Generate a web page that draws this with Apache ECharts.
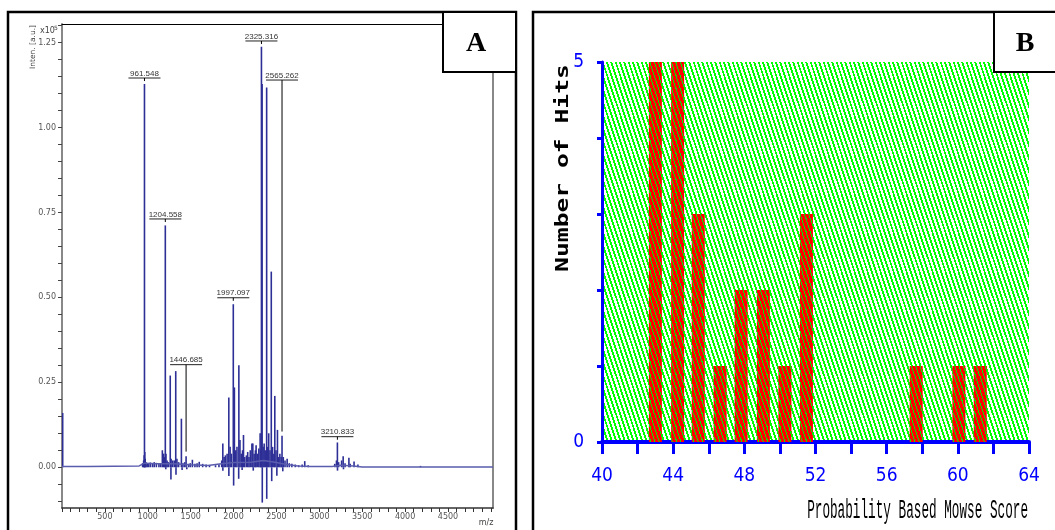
<!DOCTYPE html>
<html>
<head>
<meta charset="utf-8">
<script src="https://cdn.jsdelivr.net/npm/echarts@6/dist/echarts.min.js"></script>
<style>
  html, body { margin: 0; padding: 0; background: #fff; }
  #chart { width: 1055px; height: 530px; }
</style>
</head>
<body>
<div id="chart"></div>
<script>
// ---------- Panel A: MALDI-TOF mass spectrum (intensity in units of 1e5 a.u.) ----------
const peakMz = [
  8,
  940, 952, 958, 961.548, 965, 970, 980, 995, 1010, 1030, 1055, 1075, 1100, 1130, 1150,
  1170, 1185, 1195, 1204.558, 1212, 1225, 1240,
  1262, 1272, 1290, 1310, 1326, 1340, 1360, 1392, 1410, 1430, 1446.685, 1475, 1495,
  1520, 1550, 1575, 1600, 1640, 1680, 1720, 1790, 1830,
  1862, 1875, 1890, 1905, 1925, 1945, 1960, 1975, 1997.097, 2010, 2025, 2040, 2062,
  2075, 2090, 2105, 2116, 2130, 2150, 2165, 2180, 2195, 2214, 2225, 2240, 2255, 2263,
  2280, 2295, 2310, 2318, 2325.316, 2333, 2345, 2357, 2370, 2386, 2398, 2410, 2425,
  2440, 2455, 2470, 2481, 2495, 2512, 2525, 2540, 2555, 2565.262, 2580, 2600, 2625,
  2650, 2680, 2720, 2760, 2800, 2830, 2870,
  3180, 3200, 3210.833, 3225, 3260, 3278, 3300, 3345, 3360, 3405, 3450, 4180,
  // baseline dips
  1210, 1270, 1329, 1400, 1455, 1875.5, 1945.5, 2001, 2060, 2100, 2230, 2335, 2387,
  2445, 2505, 2574, 3212, 3282
];
const peakIntensity = [
  0.16,
  0.012, 0.02, 0.035, 1.128, 0.045, 0.025, 0.015, 0.012, 0.01, 0.014, 0.012, 0.015, 0.013, 0.01, 0.012,
  0.05, 0.04, 0.03, 0.712, 0.04, 0.02, 0.015,
  0.27, 0.025, 0.02, 0.02, 0.283, 0.025, 0.015, 0.143, 0.012, 0.015, 0.032, 0.01, 0.012,
  0.022, 0.01, 0.012, 0.016, 0.01, 0.008, 0.006, 0.006, 0.008,
  0.02, 0.07, 0.03, 0.035, 0.04, 0.205, 0.06, 0.04, 0.48, 0.235, 0.05, 0.06, 0.30,
  0.08, 0.04, 0.05, 0.095, 0.03, 0.035, 0.045, 0.03, 0.05, 0.07, 0.07, 0.04, 0.05, 0.065,
  0.04, 0.055, 0.10, 0.05, 1.238, 1.128, 0.06, 0.07, 0.05, 1.118, 0.06, 0.10, 0.05,
  0.576, 0.06, 0.04, 0.21, 0.05, 0.11, 0.03, 0.04, 0.03, 0.093, 0.03, 0.02, 0.025,
  0.012, 0.01, 0.008, 0.006, 0.008, 0.018, 0.006,
  0.01, 0.02, 0.073, 0.015, 0.02, 0.032, 0.012, 0.028, 0.01, 0.017, 0.008, 0.004,
  -0.006, -0.036, -0.022, -0.008, -0.006, -0.01, -0.026, -0.054, -0.034, -0.008, -0.01, -0.104, -0.093,
  -0.041, -0.025, -0.012, -0.01, -0.006
];
const baselineMz = [0, 300, 600, 900, 960, 1100, 1300, 1500, 1700, 1860, 2000, 2200, 2350, 2500, 2620, 2750, 2900, 3150, 3250, 3400, 3500, 5025];
const baselineLevel = [0.002, 0.002, 0.003, 0.004, 0.012, 0.01, 0.01, 0.007, 0.005, 0.01, 0.014, 0.015, 0.02, 0.014, 0.008, 0.004, 0.002, 0.002, 0.006, 0.004, 0.001, 0.001];

// annotated peaks: m/z, height of the underline, end of the leader line
const labelMz = [961.548, 1204.558, 1446.685, 1997.097, 2325.316, 2565.262, 3210.833];
const labelLevel = [1.146, 0.731, 0.302, 0.499, 1.255, 1.14, 0.09];
const leaderEnd = [1.137, 0.722, 0.046, 0.49, 1.246, 0.105, 0.081];

const mzTickLabels = [500, 1000, 1500, 2000, 2500, 3000, 3500, 4000, 4500];
const intensityTickLabels = [0, 0.25, 0.5, 0.75, 1.0, 1.25];
const intensityTicks = [-0.10, -0.05, 0, 0.05, 0.10, 0.15, 0.20, 0.25, 0.30, 0.35, 0.40, 0.45, 0.50,
  0.55, 0.60, 0.65, 0.70, 0.75, 0.80, 0.85, 0.90, 0.95, 1.00, 1.05, 1.10, 1.15, 1.20, 1.25, 1.30];
const mzTicks = [];
for (let v = 0; v <= 5000; v += 100) mzTicks.push(v);

// ---------- Panel B: histogram of Mowse scores ----------
const scoreBins = [43.0, 44.25, 45.41, 46.64, 47.82, 49.07, 50.28, 51.49, 57.66, 60.06, 61.26];
const hitCounts = [5, 5, 3, 1, 2, 2, 1, 3, 1, 1, 1];
const scoreTickLabels = [40, 44, 48, 52, 56, 60, 64];
const hitTickLabels = [0, 5];

// diagonal hatch used for the plot background and the bars
function hatch(bg, fg, thick) {
  const W = 13, H = 39, period = W / 3;
  const c = document.createElement('canvas');
  c.width = W; c.height = H;
  const ctx = c.getContext('2d');
  ctx.fillStyle = bg; ctx.fillRect(0, 0, W, H);
  ctx.fillStyle = fg;
  for (let y = 0; y < H; y++) {
    for (let x = 0; x < W; x++) {
      let u = (x - y / 3) % period;
      if (u < 0) u += period;
      if (u < thick) ctx.fillRect(x, y, 1, 1);
    }
  }
  return { image: c, repeat: 'repeat' };
}

const SPEC = '#2d2f96';
const BLUE = '#0000ff';
const narrow = "'Liberation Sans Narrow', 'DejaVu Sans Condensed', 'Roboto Condensed', sans-serif";

const chart = echarts.init(document.getElementById('chart'), null, { renderer: 'canvas' });

chart.setOption({
  animation: false,
  backgroundColor: '#fff',
  grid: [
    { left: 62, right: 562, top: 24, bottom: 22, show: false },
    { left: 602, right: 26, top: 62, bottom: 88, show: true, borderWidth: 0,
      backgroundColor: hatch('#ffffff', '#00ff00', 1.9) }
  ],
  xAxis: [
    { gridIndex: 0, type: 'value', min: 0, max: 5025, position: 'bottom',
      axisLine: { show: true, onZero: false, lineStyle: { color: '#333', width: 1.5 } },
      axisTick: { show: true, customValues: mzTicks, length: 4, lineStyle: { color: '#333' } },
      axisLabel: { customValues: mzTickLabels, formatter: v => String(v), color: '#555', fontSize: 8, margin: 5,
        fontFamily: "'DejaVu Sans', sans-serif" },
      splitLine: { show: false } },
    { gridIndex: 0, type: 'value', min: 0, max: 5025, position: 'top',
      axisLine: { show: true, onZero: false, lineStyle: { color: '#000', width: 1 } },
      axisTick: { show: false }, axisLabel: { show: false }, splitLine: { show: false } },
    { gridIndex: 1, type: 'value', min: 40, max: 64, interval: 2, position: 'bottom',
      axisLine: { show: true, onZero: false, lineStyle: { color: BLUE, width: 4 } },
      axisTick: { show: true, length: 12, lineStyle: { color: BLUE, width: 3 } },
      axisLabel: { customValues: scoreTickLabels, formatter: v => String(v), color: BLUE, fontSize: 19, margin: 25,
        fontFamily: narrow },
      splitLine: { show: false } }
  ],
  yAxis: [
    { gridIndex: 0, type: 'value', min: -0.12, max: 1.305, position: 'left',
      axisLine: { show: true, onZero: false, lineStyle: { color: '#888', width: 2 } },
      axisTick: { show: true, customValues: intensityTicks, length: 4, lineStyle: { color: '#444' } },
      axisLabel: { customValues: intensityTickLabels, formatter: v => v.toFixed(2),
        color: '#555', fontSize: 8, margin: 6, fontFamily: "'DejaVu Sans', sans-serif" },
      splitLine: { show: false } },
    { gridIndex: 0, type: 'value', min: -0.12, max: 1.305, position: 'right',
      axisLine: { show: true, onZero: false, lineStyle: { color: '#888', width: 2 } },
      axisTick: { show: false }, axisLabel: { show: false }, splitLine: { show: false } },
    { gridIndex: 1, type: 'value', min: 0, max: 5, interval: 1, position: 'left',
      axisLine: { show: true, onZero: false, lineStyle: { color: BLUE, width: 3 } },
      axisTick: { show: true, length: 5, lineStyle: { color: BLUE, width: 3 } },
      axisLabel: { customValues: hitTickLabels, color: BLUE, fontSize: 19, margin: 18,
        fontFamily: narrow },
      splitLine: { show: false } }
  ],
  series: [
    { // baseline trace
      type: 'line', xAxisIndex: 0, yAxisIndex: 0, symbol: 'none', silent: true,
      data: baselineMz.map((m, i) => [m, baselineLevel[i]]),
      lineStyle: { color: '#5a5cae', width: 1.5 }
    },
    { // spectral sticks
      type: 'custom', xAxisIndex: 0, yAxisIndex: 0, clip: true, silent: true,
      encode: { x: 0, y: 1 },
      data: peakMz.map((m, i) => [m, peakIntensity[i]]),
      renderItem(params, api) {
        const m = api.value(0);
        const p0 = api.coord([m, 0]);
        const p1 = api.coord([m, api.value(1)]);
        return { type: 'line', shape: { x1: p0[0], y1: p0[1], x2: p1[0], y2: p1[1] },
          style: { stroke: SPEC, lineWidth: 1.6 } };
      }
    },
    { // peak annotations
      type: 'custom', xAxisIndex: 0, yAxisIndex: 0, clip: false, silent: true,
      encode: { x: 0, y: 1 },
      data: labelMz.map((m, i) => [m, labelLevel[i], leaderEnd[i]]),
      renderItem(params, api) {
        const m = api.value(0);
        const a = api.coord([m, api.value(1)]);
        const b = api.coord([m, api.value(2)]);
        return { type: 'group', children: [
          { type: 'text', style: { x: a[0], y: a[1] - 0.5, text: m.toFixed(3), textAlign: 'center',
              textVerticalAlign: 'bottom', font: "8px 'Liberation Sans', sans-serif", fill: '#333' } },
          { type: 'line', shape: { x1: a[0] - 16, y1: a[1], x2: a[0] + 16, y2: a[1] },
            style: { stroke: '#222', lineWidth: 1 } },
          { type: 'line', shape: { x1: a[0], y1: a[1], x2: b[0], y2: b[1] },
            style: { stroke: '#000', lineWidth: 1 } }
        ] };
      }
    },
    { // Mowse score histogram
      type: 'bar', xAxisIndex: 2, yAxisIndex: 2, barWidth: 13, silent: true,
      data: scoreBins.map((s, i) => [s, hitCounts[i]]),
      itemStyle: { color: hatch('#ff0000', '#00ee00', 1.0) }
    }
  ],
  graphic: { elements: [
    // panel frames
    { type: 'rect', shape: { x: 8, y: 12, width: 508, height: 540 }, z: 100,
      style: { fill: null, stroke: '#000', lineWidth: 2.5 } },
    { type: 'rect', shape: { x: 533, y: 12, width: 540, height: 540 }, z: 100,
      style: { fill: null, stroke: '#000', lineWidth: 2.5 } },
    // panel letters
    { type: 'rect', shape: { x: 443, y: 12, width: 73, height: 60 }, z: 101,
      style: { fill: '#fff', stroke: '#000', lineWidth: 2 } },
    { type: 'text', x: 476, y: 44, z: 102, style: { text: 'A', textAlign: 'center', textVerticalAlign: 'middle',
      font: "bold 28px 'Liberation Serif', serif", fill: '#000' } },
    { type: 'rect', shape: { x: 994, y: 12, width: 80, height: 60 }, z: 101,
      style: { fill: '#fff', stroke: '#000', lineWidth: 2 } },
    { type: 'text', x: 1025, y: 44, z: 102, style: { text: 'B', textAlign: 'center', textVerticalAlign: 'middle',
      font: "bold 28px 'Liberation Serif', serif", fill: '#000' } },
    // panel A axis captions
    { type: 'text', x: 33, y: 47, rotation: Math.PI / 2, z: 102, style: { text: 'Inten. [a.u.]',
      textAlign: 'center', textVerticalAlign: 'middle', font: "7.5px 'DejaVu Sans', sans-serif", fill: '#444' } },
    { type: 'text', x: 40, y: 31, z: 102, style: { text: 'x10', textAlign: 'left', textVerticalAlign: 'middle',
      font: "8px 'DejaVu Sans', sans-serif", fill: '#444' } },
    { type: 'text', x: 54, y: 28, z: 102, style: { text: '5', textAlign: 'left', textVerticalAlign: 'middle',
      font: "6px 'DejaVu Sans', sans-serif", fill: '#444' } },
    { type: 'text', x: 486, y: 523, z: 102, style: { text: 'm/z', textAlign: 'center', textVerticalAlign: 'middle',
      font: "8px 'DejaVu Sans', sans-serif", fill: '#444' } },
    // panel B axis captions
    { type: 'text', x: 564, y: 168, rotation: Math.PI / 2, scaleX: 1.45, z: 102, style: { text: 'Number of Hits',
      textAlign: 'center', textVerticalAlign: 'middle', font: "bold 17px 'DejaVu Sans Mono', monospace", fill: '#000' } },
    { type: 'text', x: 1028, y: 511, scaleX: 0.47, z: 102, style: { text: 'Probability Based Mowse Score',
      textAlign: 'right', textVerticalAlign: 'middle', font: "27px 'Liberation Mono', monospace", fill: '#000' } }
  ] }
});
</script>
</body>
</html>
